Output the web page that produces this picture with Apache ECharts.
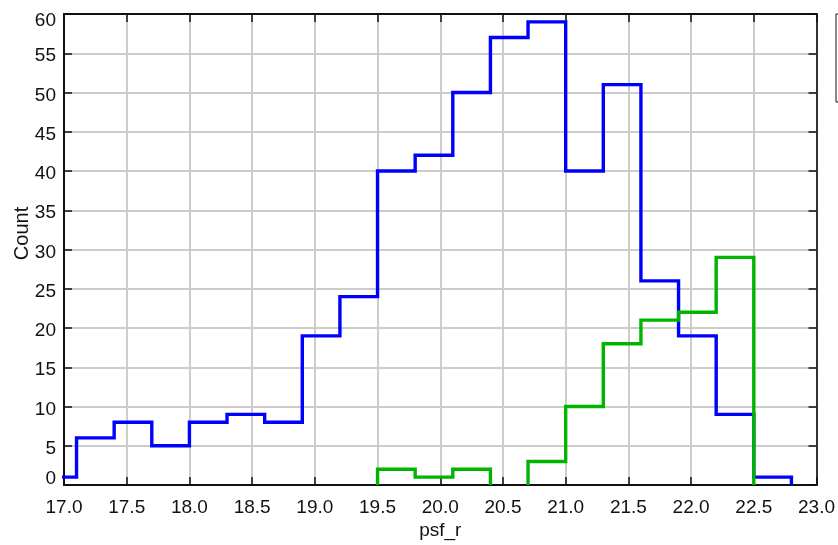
<!DOCTYPE html>
<html>
<head>
<meta charset="utf-8">
<title>psf_r histogram</title>
<script src="https://cdn.jsdelivr.net/npm/echarts@6/dist/echarts.min.js"></script>
<style>
  html, body { margin: 0; padding: 0; background: #ffffff; }
  #chart { width: 838px; height: 545px; }
</style>
</head>
<body>
<div id="chart"></div>
<script>
// Histogram bins: 0.3 mag wide, counts per bin
const binWidth = 0.3;
const blueStart = 16.8;
const blueCounts = [1, 6, 8, 5, 8, 9, 8, 19, 24, 40, 42, 50, 57, 59, 40, 51, 26, 19, 9, 1];
const greenStart = 19.5;
const greenCounts = [2, 1, 2, 0, 3, 10, 18, 21, 22, 29];

const xTicks = { min: 17, max: 23, interval: 0.5 };
const yTicks = { min: 0, max: 60, interval: 5 };
const seriesNames = ['All', 'Subset'];

// Turn bin counts into a step outline; empty bins break the outline
function stepOutline(start, counts) {
  const pts = [];
  let open = false;
  counts.forEach((c, i) => {
    const x0 = +(start + i * binWidth).toFixed(4);
    const x1 = +(start + (i + 1) * binWidth).toFixed(4);
    if (c > 0) {
      if (!open) { pts.push([x0, 0]); open = true; }
      pts.push([x0, c], [x1, c]);
    } else if (open) {
      pts.push([x0, 0], null);
      open = false;
    }
  });
  if (open) {
    const xe = +(start + counts.length * binWidth).toFixed(4);
    pts.push([xe, 0]);
  }
  return pts;
}

const FONT = 'Liberation Sans, Arial, Helvetica, sans-serif';
const chart = echarts.init(document.getElementById('chart'), null, { renderer: 'canvas' });

const gridLine = { show: true, lineStyle: { color: '#cccccc', width: 2 } };
const frameLine = { show: true, onZero: false, lineStyle: { color: '#111111', width: 2 } };
const innerTick = { show: true, inside: true, length: 8, lineStyle: { color: '#111111', width: 1.5 } };
const tickFont = { fontFamily: FONT, fontSize: 19, color: '#111' };

chart.setOption({
  animation: false,
  backgroundColor: '#ffffff',
  grid: { left: 64, right: 19, top: 14, bottom: 58, containLabel: false },
  legend: {
    left: 836, top: 14, orient: 'vertical',
    padding: [25, 10], itemGap: 10, itemHeight: 14,
    borderColor: '#111111', borderWidth: 1,
    textStyle: { fontFamily: FONT, fontSize: 14, color: '#000' },
    data: seriesNames
  },
  xAxis: [
    {
      type: 'value', position: 'bottom',
      min: xTicks.min, max: xTicks.max, interval: xTicks.interval,
      name: 'psf_r', nameLocation: 'middle', nameGap: 36, nameMoveOverlap: false,
      nameTextStyle: { fontFamily: FONT, fontSize: 19, color: '#111' },
      axisLine: frameLine, axisTick: innerTick, splitLine: gridLine,
      axisLabel: Object.assign({
        margin: 13, formatter: v => v.toFixed(1), showMinLabel: true, showMaxLabel: true
      }, tickFont)
    },
    {
      type: 'value', position: 'top',
      min: xTicks.min, max: xTicks.max, interval: xTicks.interval,
      axisLine: frameLine, axisTick: innerTick,
      splitLine: { show: false }, axisLabel: { show: false }
    }
  ],
  yAxis: [
    {
      type: 'value', position: 'left',
      min: yTicks.min, max: yTicks.max, interval: yTicks.interval,
      name: 'Count', nameLocation: 'middle', nameGap: 32, nameMoveOverlap: false,
      nameTextStyle: { fontFamily: FONT, fontSize: 20, color: '#111', padding: [0, 0, 0, 32] },
      axisLine: frameLine, axisTick: innerTick, splitLine: gridLine,
      axisLabel: Object.assign({
        margin: 8,
        formatter: v => v === yTicks.min ? '{lo|' + v + '}' : (v === yTicks.max ? '{hi|' + v + '}' : '{n|' + v + '}'),
        rich: {
          n: Object.assign({ padding: [6, 0, 0, 0] }, tickFont),
          lo: Object.assign({ padding: [0, 0, 12, 0] }, tickFont),
          hi: Object.assign({ padding: [14, 0, 0, 0] }, tickFont)
        }
      }, tickFont)
    },
    {
      type: 'value', position: 'right',
      min: yTicks.min, max: yTicks.max, interval: yTicks.interval,
      axisLine: { show: true, onZero: false, lineStyle: { color: '#333333', width: 2 } },
      axisTick: innerTick, splitLine: { show: false }, axisLabel: { show: false }
    }
  ],
  series: [
    {
      name: seriesNames[0], type: 'line', xAxisIndex: 0, yAxisIndex: 0,
      data: stepOutline(blueStart, blueCounts),
      showSymbol: false, symbol: 'none', connectNulls: false, z: 3,
      lineStyle: { color: '#0000ff', width: 3.4, join: 'miter', cap: 'butt' },
      itemStyle: { color: '#0000ff' }
    },
    {
      name: seriesNames[1], type: 'line', xAxisIndex: 0, yAxisIndex: 0,
      data: stepOutline(greenStart, greenCounts),
      showSymbol: false, symbol: 'none', connectNulls: false, z: 4,
      lineStyle: { color: '#00b400', width: 3.4, join: 'miter', cap: 'butt' },
      itemStyle: { color: '#00b400' }
    }
  ]
});
</script>
</body>
</html>
